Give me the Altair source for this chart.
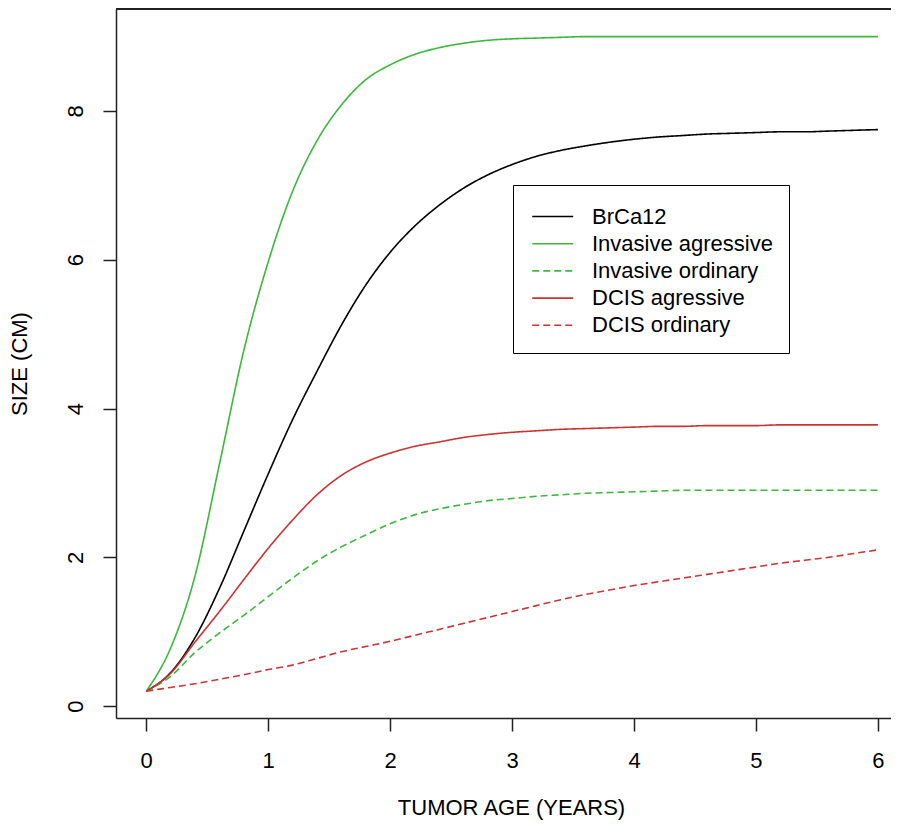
import altair as alt
import pandas as pd

# time grid (years)
years = [0.0, 0.2, 0.4, 0.6, 0.8, 1.0, 1.2, 1.4, 1.6, 1.8, 2.0, 2.2, 2.4, 2.6, 2.8, 3.0,
         3.2, 3.4, 3.6, 3.8, 4.0, 4.2, 4.4, 4.6, 4.8, 5.0, 5.2, 5.4, 5.6, 5.8, 6.0]

series_names = ["BrCa12", "Invasive agressive", "Invasive ordinary", "DCIS agressive", "DCIS ordinary"]

brca12 = [0.2, 0.45, 0.92, 1.58, 2.35, 3.12, 3.85, 4.5, 5.12, 5.66, 6.1, 6.45, 6.73, 6.96, 7.14, 7.28,
          7.39, 7.47, 7.53, 7.58, 7.62, 7.65, 7.67, 7.69, 7.7, 7.71, 7.72, 7.72, 7.73, 7.74, 7.75]
inv_agr = [0.2, 0.78, 1.75, 3.25, 4.78, 5.97, 6.92, 7.6, 8.08, 8.42, 8.62, 8.76, 8.85, 8.91, 8.95, 8.97,
           8.98, 8.99, 9.0, 9.0, 9.0, 9.0, 9.0, 9.0, 9.0, 9.0, 9.0, 9.0, 9.0, 9.0, 9.0]
inv_ord = [0.2, 0.4, 0.72, 0.98, 1.22, 1.47, 1.72, 1.95, 2.14, 2.3, 2.45, 2.57, 2.65, 2.71, 2.76, 2.79,
           2.82, 2.84, 2.86, 2.87, 2.88, 2.89, 2.9, 2.9, 2.9, 2.9, 2.9, 2.9, 2.9, 2.9, 2.9]
dcis_agr = [0.2, 0.44, 0.86, 1.27, 1.7, 2.12, 2.5, 2.84, 3.1, 3.28, 3.4, 3.49, 3.55, 3.61, 3.65, 3.68,
            3.7, 3.72, 3.73, 3.74, 3.75, 3.76, 3.76, 3.77, 3.77, 3.77, 3.78, 3.78, 3.78, 3.78, 3.78]
dcis_ord = [0.2, 0.25, 0.3, 0.36, 0.42, 0.49, 0.55, 0.64, 0.73, 0.8, 0.87, 0.95, 1.03, 1.11, 1.19, 1.27,
            1.35, 1.43, 1.5, 1.56, 1.62, 1.67, 1.72, 1.77, 1.82, 1.87, 1.92, 1.96, 2.0, 2.05, 2.1]

x_ticks = [0, 1, 2, 3, 4, 5, 6]
y_ticks = [0, 2, 4, 6, 8]

colors = ["#000000", "#3CB83C", "#3CB83C", "#CC3333", "#CC3333"]
dashes = [[1, 0], [1, 0], [7, 4], [1, 0], [7, 4]]

rows = []
for name, vals in zip(series_names, [brca12, inv_agr, inv_ord, dcis_agr, dcis_ord]):
    for t, v in zip(years, vals):
        rows.append({"series": name, "age": t, "size": v})
df = pd.DataFrame(rows)

W, H = 775, 709
XMIN = -0.248
XMAX = XMIN + W / 121.95
FONT = "Liberation Sans"

legend = alt.Legend(
    title=" ", titleFontSize=4, titlePadding=0,
    orient="none", legendX=397, legendY=176,
    strokeColor="#000000", fillColor="#ffffff", padding=16,
    labelFont=FONT, labelFontSize=22, labelColor="#000000",
    symbolType="M-1,0H3", symbolSize=420, symbolStrokeWidth=1.6, symbolOffset=2,
    labelOffset=38, rowPadding=4.2, labelLimit=400,
)

lines = alt.Chart(df).mark_line(strokeWidth=1.6, interpolate="monotone").encode(
    x=alt.X("age:Q", scale=alt.Scale(domain=[XMIN, XMAX], nice=False, zero=False),
            axis=alt.Axis(values=x_ticks, title="TUMOR AGE (YEARS)", format="d",
                          titleX=395, titleY=79.5, titleAlign="center", titleBaseline="top",
                          labelPadding=19.4)),
    y=alt.Y("size:Q", scale=alt.Scale(domain=[-0.161, 9.371], nice=False, zero=False),
            axis=alt.Axis(values=y_ticks, title="SIZE (CM)", format="d", labelAngle=-90,
                          labelAlign="center", labelBaseline="bottom", labelPadding=15.4,
                          titleX=-84.4, titleY=354.5, titleAngle=-90, titleAlign="center",
                          titleBaseline="bottom")),
    color=alt.Color("series:N", scale=alt.Scale(domain=series_names, range=colors), legend=legend,
                    sort=series_names),
    strokeDash=alt.StrokeDash("series:N", scale=alt.Scale(domain=series_names, range=dashes),
                              legend=legend, sort=series_names),
    order="age:Q",
)

top_border = alt.Chart(df).mark_rule(color="#222222", strokeWidth=1.5).encode(
    x=alt.value(0), x2=alt.value(W), y=alt.value(0)
)

chart = alt.layer(lines, top_border).properties(
    width=W, height=H,
    background="#ffffff",
    autosize=alt.AutoSizeParams(type="none"),
    padding={"left": 108, "top": 1, "right": 0, "bottom": 102},
).configure_view(stroke=None).configure_axis(
    grid=False, domainColor="#222222", domainWidth=1.5, tickColor="#222222", tickWidth=1.5,
    tickSize=13, labelFont=FONT, labelFontSize=22, labelColor="#000000",
    titleFont=FONT, titleFontSize=22, titleColor="#000000", titleFontWeight="normal",
)

chart.save("out.html", embed_options={"renderer": "svg", "actions": False})
